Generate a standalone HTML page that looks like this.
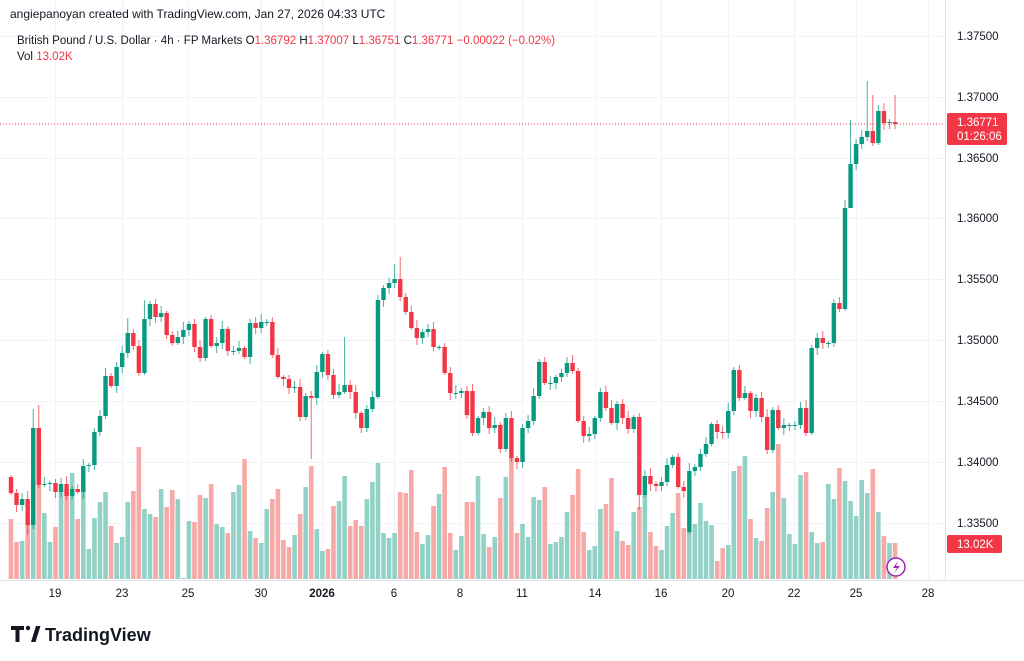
<!DOCTYPE html>
<html><head><meta charset="utf-8"><style>
html,body{margin:0;padding:0;background:#fff;width:1024px;height:661px;overflow:hidden;font-family:"Liberation Sans",sans-serif}
svg{position:absolute;left:0;top:0}
</style></head><body>
<svg id="s" width="1024" height="661" xmlns="http://www.w3.org/2000/svg" font-family="Liberation Sans, sans-serif">
<rect width="1024" height="661" fill="#fff"/>
<g id="grid" stroke="#f0f3fa" stroke-width="1"></g>
<g id="vol"></g>
<g id="cdl"></g>
<line x1="0" y1="124" x2="945" y2="124" stroke="#f23645" stroke-width="1" stroke-dasharray="1,2"/>
<line x1="945.5" y1="0" x2="945.5" y2="580" stroke="#e0e3eb"/>
<line x1="0" y1="580.5" x2="1024" y2="580.5" stroke="#e0e3eb"/>
<g id="plab" font-size="11.5" fill="#131722"></g>
<rect x="947" y="113" width="60" height="32" rx="2" fill="#f23645"/>
<text x="957" y="126" font-size="11.5" fill="#fff">1.36771</text>
<text x="957" y="140" font-size="11.5" fill="#fff">01:26:06</text>
<rect x="947" y="535" width="55" height="18" rx="2" fill="#f23645"/>
<text x="957" y="548" font-size="11.5" fill="#fff">13.02K</text>
<g id="tlab" font-size="11.5" fill="#131722" text-anchor="middle"></g>
<text x="10" y="18" font-size="12" fill="#131722">angiepanoyan created with TradingView.com, Jan 27, 2026 04:33 UTC</text>
<text x="17" y="44" font-size="11.5" fill="#131722">British Pound / U.S. Dollar · 4h · FP Markets <tspan fill="#131722">O</tspan><tspan fill="#f23645">1.36792 </tspan><tspan fill="#131722">H</tspan><tspan fill="#f23645">1.37007 </tspan><tspan fill="#131722">L</tspan><tspan fill="#f23645">1.36751 </tspan><tspan fill="#131722">C</tspan><tspan fill="#f23645">1.36771 −0.00022 (−0.02%)</tspan></text>
<text x="17" y="60" font-size="11.5" fill="#131722">Vol <tspan fill="#f23645">13.02K</tspan></text>
<circle cx="896" cy="567" r="9" fill="#fff" stroke="#9c27b0" stroke-width="1.5"/>
<path d="M898 561 L893 568 L897 568 L894 573 L900 566 L896 566 Z" fill="#9c27b0"/>
<g fill="#131722">
<path d="M11 626 h13 v4 h-4.5 v12 h-4 v-12 h-4.5 z"/>
<circle cx="28" cy="628" r="2.2"/>
<path d="M31 642 l5 -16 h4.5 l-5 16 z"/>
</g>
<text x="45" y="641" font-size="18" font-weight="bold" fill="#131722">TradingView</text>
</svg>
<script>
(function(){
var NS="http://www.w3.org/2000/svg";
function el(p,t,a){var e=document.createElementNS(NS,t);for(var k in a)e.setAttribute(k,a[k]);p.appendChild(e);return e;}
var grid=document.getElementById('grid');
var py=[36,97,158,218,279,340,401,462,523],pl=["1.37500","1.37000","1.36500","1.36000","1.35500","1.35000","1.34500","1.34000","1.33500"];
var plab=document.getElementById('plab');
py.forEach(function(y,i){el(grid,'line',{x1:0,x2:945,y1:y+.5,y2:y+.5});var t=el(plab,'text',{x:957,y:y+4});t.textContent=pl[i];});
var tx=[55,122,188,261,322,394,460,522,595,661,728,794,856,928],tl=["19","23","25","30","2026","6","8","11","14","16","20","22","25","28"];
var tlab=document.getElementById('tlab');
tx.forEach(function(x,i){el(grid,'line',{x1:x+.5,x2:x+.5,y1:0,y2:580});var t=el(tlab,'text',{x:x,y:597});if(tl[i]=="2026")t.setAttribute('font-weight','bold');t.textContent=tl[i];});
var C=[493,505,499,525,428,485,484,483,492,484,496,489,492,466,465,432,416,376,386,367,353,333,346,373,319,304,317,313,335,343,337,330,324,347,358,319,346,343,329,351,351,348,
357,323,328,322,322,355,377,379,388,387,417,396,398,372,354,375,395,392,385,392,413,428,409,397,300,288,283,279,297,312,328,338,332,329,347,347,373,393,393,391,415,
433,418,412,428,425,449,418,458,462,428,421,396,362,383,383,377,373,363,371,421,436,434,418,392,408,423,404,418,429,417,495,476,484,486,482,465,457,487,491,471,467,
454,444,424,432,433,411,370,398,393,411,398,417,450,410,428,425,425,425,408,433,348,338,343,343,303,309,208,164,144,137,131,143,111,123,122,124];
var O=[477];for(var i=1;i<C.length;i++)O.push(C[i-1]);
O[122]=532;O[83]=391;
var V=[519,542,541,525,476,441,513,542,527,489,489,473,519,479,549,518,502,492,526,543,537,502,491,447,509,514,517,489,507,490,499,578,521,522,495,498,484,524,527,533,492,485,
459,531,538,543,509,499,489,540,547,535,514,487,466,529,551,549,506,501,476,526,520,526,499,482,463,533,538,533,492,493,470,532,544,535,506,494,467,533,550,536,502,
502,476,534,547,537,498,477,458,533,524,537,497,500,487,544,542,537,512,495,469,532,550,546,509,504,478,531,541,545,512,507,495,532,546,550,526,513,493,528,532,524,
503,521,525,561,548,545,471,466,456,519,538,541,508,492,444,498,534,544,475,472,532,543,542,484,499,468,481,501,516,480,493,469,512,536,543,543];
var HI={4:409,5:405,60:337,69:264,70:257,154:81,155:95,159:95,151:120,66:295,21:318,24:300};
var LO={54:459,3:535,151:165,122:534,90:462,113:510};
var vg=document.getElementById('vol'),cg=document.getElementById('cdl');
var sp=5.56,x0=11;
for(var i=0;i<C.length;i++){
 var x=x0+sp*i,o=O[i],c=C[i],up=c<=o;
 var col=up?'#089981':'#f23645',vc=up?'#92d2c6':'#f7a9a7';
 var v=V[i]||540;
 el(vg,'rect',{x:x-2.3,y:v,width:4.6,height:579-v,fill:vc});
 var bt=Math.min(o,c),bb=Math.max(o,c);
 var s=((i*37)%7)+2,s2=((i*53)%6)+2;
 var hi=(HI[i]!==undefined)?HI[i]:bt-s;
 var lo=(LO[i]!==undefined)?LO[i]:bb+s2;
 el(cg,'line',{x1:x,x2:x,y1:hi,y2:lo,stroke:col,'stroke-width':1,opacity:.75});
 el(cg,'rect',{x:x-2.2,y:bt,width:4.4,height:Math.max(1,bb-bt),fill:col});
}
})();
</script>
</body></html>
